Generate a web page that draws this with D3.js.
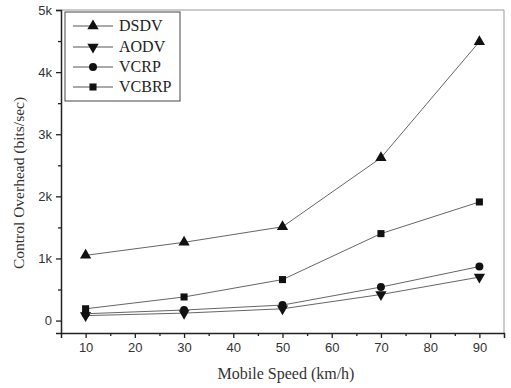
<!DOCTYPE html>
<html><head><meta charset="utf-8">
<script src="https://cdn.jsdelivr.net/npm/d3@7"></script>
<style>body{margin:0;background:#fff}svg{display:block}</style>
</head><body>
<script>
const speeds = [10, 30, 50, 70, 90];
const seriesNames = ["DSDV", "AODV", "VCRP", "VCBRP"];
const dsdv  = [1050, 1260, 1510, 2620, 4490];
const aodv  = [80, 120, 190, 420, 700];
const vcrp  = [110, 170, 250, 540, 870];
const vcbrp = [190, 380, 660, 1400, 1910];
const xTicks = [10, 20, 30, 40, 50, 60, 70, 80, 90];
const yTicks = [0, 1000, 2000, 3000, 4000, 5000];
const yTickLabels = ["0", "1k", "2k", "3k", "4k", "5k"];
const symbols = ["triangle", "down", "circle", "square"];

const W = 511, H = 388;
const svg = d3.select("body").append("svg").attr("width", W).attr("height", H);
const x = d3.scaleLinear().domain([5, 95]).range([61, 504]);
const y = d3.scaleLinear().domain([-200, 5000]).range([333, 10]);

svg.append("path").attr("d", `M${x(5)},${y(5000)}H${x(95)}V${y(-200)}`)
  .attr("fill", "none").attr("stroke", "#999").attr("stroke-width", 1);

const sans = "'Liberation Sans', Arial, sans-serif";
const serif = "'Liberation Serif', 'Times New Roman', serif";

const xAxis = d3.axisBottom(x).tickValues(xTicks).tickSize(5).tickPadding(5);
svg.append("g").attr("transform", `translate(0,${y(-200)})`).call(xAxis);
const xMinor = d3.axisBottom(x).tickValues([15,25,35,45,55,65,75,85]).tickSize(3).tickFormat("");
svg.append("g").attr("transform", `translate(0,${y(-200)})`).call(xMinor).select(".domain").remove();

const yAxis = d3.axisLeft(y).tickValues(yTicks).tickSize(5).tickPadding(4)
  .tickFormat((d, i) => yTickLabels[i]);
svg.append("g").attr("transform", `translate(${x(5)},0)`).call(yAxis);
const yMinor = d3.axisLeft(y).tickValues([500,1500,2500,3500,4500]).tickSize(3).tickFormat("");
svg.append("g").attr("transform", `translate(${x(5)},0)`).call(yMinor).select(".domain").remove();

svg.selectAll(".domain").attr("stroke", "#222").attr("stroke-width", 1.5);
svg.selectAll(".tick line").attr("stroke", "#222").attr("stroke-width", 1.3);
svg.selectAll(".tick text").attr("font-family", sans).attr("font-size", 13).attr("fill", "#333");

svg.append("text").attr("x", 286).attr("y", 379).attr("text-anchor", "middle")
  .attr("font-family", serif).attr("font-size", 16).attr("fill", "#333").text("Mobile Speed (km/h)");
svg.append("text").attr("transform", `translate(24,183) rotate(-90)`).attr("text-anchor", "middle")
  .attr("font-family", serif).attr("font-size", 15.5).attr("fill", "#333").text("Control Overhead (bits/sec)");

const all = [dsdv, aodv, vcrp, vcbrp];
function sym(name) {
  if (name === "triangle" || name === "down") return d3.symbol().type(d3.symbolTriangle).size(55)();
  if (name === "circle") return d3.symbol().type(d3.symbolCircle).size(50)();
  return d3.symbol().type(d3.symbolSquare).size(50)();
}
const line = d3.line().x((d, i) => x(speeds[i])).y(d => y(d));
all.forEach((vals, k) => {
  svg.append("path").attr("d", line(vals)).attr("fill", "none").attr("stroke", "#666").attr("stroke-width", 1);
  svg.selectAll(null).data(vals).enter().append("path")
    .attr("d", sym(symbols[k]))
    .attr("transform", (d, i) => `translate(${x(speeds[i])},${y(d)})${symbols[k]==="down"?" rotate(180)":""}`)
    .attr("fill", "#111");
});

const lg = svg.append("g");
lg.append("rect").attr("x", 65).attr("y", 12).attr("width", 115).attr("height", 89)
  .attr("fill", "#fff").attr("stroke", "#444").attr("stroke-width", 1);
const ly = [26, 47, 67, 87];
seriesNames.forEach((n, k) => {
  lg.append("line").attr("x1", 73).attr("x2", 113).attr("y1", ly[k]).attr("y2", ly[k]).attr("stroke", "#555");
  lg.append("path").attr("d", sym(symbols[k]))
    .attr("transform", `translate(93,${ly[k]})${symbols[k]==="down"?" rotate(180)":""}`).attr("fill", "#111");
  lg.append("text").attr("x", 119).attr("y", ly[k] + 5).attr("font-family", serif).attr("font-size", 16)
    .attr("fill", "#222").text(n);
});
</script>
</body></html>
